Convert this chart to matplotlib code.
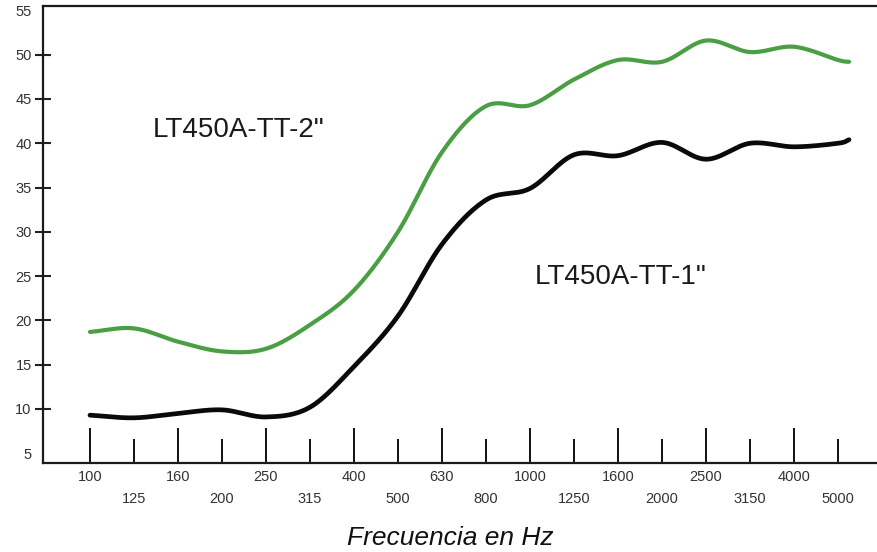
import numpy as np
import matplotlib
matplotlib.use("Agg")
import matplotlib.pyplot as plt

# ---- data ----
freq_labels = ["100", "125", "160", "200", "250", "315", "400", "500", "630",
               "800", "1000", "1250", "1600", "2000", "2500", "3150", "4000", "5000"]
# positions of the measured points (band index); last point is the curve end
curve_pos = [0, 1, 2, 3, 4, 5, 6, 7, 8, 9, 10, 11, 12, 13, 14, 15, 16, 17, 17.25]
tt2_values = [18.7, 19.1, 17.6, 16.5, 16.8, 19.5, 23.4, 30.0, 39.0, 44.2,
              44.3, 47.2, 49.4, 49.2, 51.6, 50.3, 50.9, 49.4, 49.2]
tt1_values = [9.3, 9.0, 9.5, 9.9, 9.1, 10.2, 14.8, 20.5, 28.6, 33.6,
              34.9, 38.7, 38.6, 40.1, 38.2, 40.0, 39.6, 40.0, 40.4]
ytick_major = [10, 15, 20, 25, 30, 35, 40, 45, 50]
ytick_edge = [5, 55]
label_tt2 = 'LT450A-TT-2"'
label_tt1 = 'LT450A-TT-1"'
xlabel = "Frecuencia en Hz"


def catmull_rom(xs, ys, n=30):
    xs = np.asarray(xs, float)
    ys = np.asarray(ys, float)
    px = np.concatenate([[2 * xs[0] - xs[1]], xs, [2 * xs[-1] - xs[-2]]])
    py = np.concatenate([[2 * ys[0] - ys[1]], ys, [2 * ys[-1] - ys[-2]]])
    outx, outy = [], []
    for i in range(1, len(px) - 2):
        t = np.linspace(0, 1, n, endpoint=False)
        for P, out in ((px, outx), (py, outy)):
            p0, p1, p2, p3 = P[i - 1], P[i], P[i + 1], P[i + 2]
            out.extend(0.5 * ((2 * p1) + (-p0 + p2) * t +
                              (2 * p0 - 5 * p1 + 4 * p2 - p3) * t ** 2 +
                              (-p0 + 3 * p1 - 3 * p2 + p3) * t ** 3))
    outx.append(xs[-1])
    outy.append(ys[-1])
    return np.array(outx), np.array(outy)


plt.rcParams['font.family'] = ['Liberation Sans', 'DejaVu Sans']

fig = plt.figure(figsize=(8.78, 5.52), dpi=100)
ax = fig.add_axes([43 / 878, 89 / 552, 1 - 43 / 878, (463 - 6) / 552])

gx, gy = catmull_rom(curve_pos, tt2_values)
bx, by = catmull_rom(curve_pos, tt1_values)
ax.plot(gx, gy, color='#4a9e43', lw=3.0, solid_capstyle='round')
ax.plot(bx, by, color='#0a0a0a', lw=3.4, solid_capstyle='round')

ax.set_xlim(-47 / 44, 788 / 44)
ax.set_ylim(3.9, 55.5)

for s in ('left', 'top', 'bottom'):
    ax.spines[s].set_linewidth(1.6)
    ax.spines[s].set_color('#1a1a1a')
ax.spines['right'].set_visible(False)

# x ticks: even bands major (tall), odd bands minor (short)
idx = np.arange(len(freq_labels))
ax.set_xticks(idx[::2])
ax.set_xticklabels(freq_labels[::2])
ax.set_xticks(idx[1::2], minor=True)
ax.set_xticklabels(freq_labels[1::2], minor=True)
ax.tick_params(axis='x', which='major', direction='in', length=25, width=1.4,
               color='#111111', pad=5, labelsize=10.5, labelcolor='#333333')
ax.tick_params(axis='x', which='minor', direction='in', length=17, width=1.4,
               color='#111111', pad=21, labelsize=10.5, labelcolor='#333333')

ax.set_yticks(ytick_major)
ax.set_yticks(ytick_edge, minor=True)
ax.set_yticklabels([str(v) for v in ytick_edge], minor=True)
ax.tick_params(axis='y', which='major', direction='inout', length=11, width=1.5,
               color='#222222', pad=2.6, labelsize=10.5, labelcolor='#333333')
ax.tick_params(axis='y', which='minor', length=0, pad=8, labelsize=10.5,
               labelcolor='#333333')

ax.text(1.43, 41.5, label_tt2, fontsize=20, color='#1a1a1a', ha='left', va='center')
ax.text(10.11, 24.9, label_tt1, fontsize=20, color='#1a1a1a', ha='left', va='center')

fig.text(450 / 878, 1 - 538 / 552, xlabel, fontsize=19, style='italic',
         ha='center', va='center', color='#111111')

fig.savefig('out.png', dpi=100)
